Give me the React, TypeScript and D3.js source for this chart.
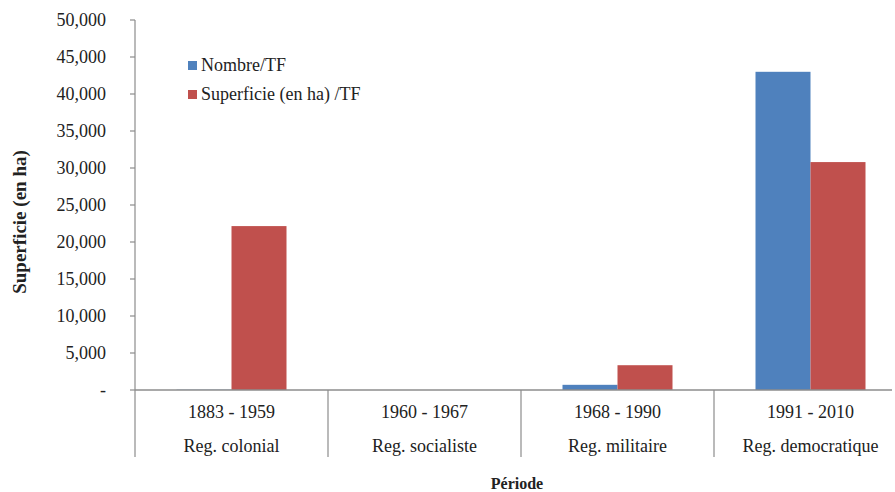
import React, { useEffect, useRef } from 'react';
import * as d3 from 'd3';

const WIDTH = 895;
const HEIGHT = 492;

const periods = ['1883 - 1959', '1960 - 1967', '1968 - 1990', '1991 - 2010'];
const regimes = ['Reg. colonial', 'Reg. socialiste', 'Reg. militaire', 'Reg. democratique'];
const nombreTF = [40, 0, 700, 43000];
const superficieTF = [22150, 0, 3350, 30800];
const seriesNames = ['Nombre/TF', 'Superficie (en ha) /TF'];
const seriesColors = ['#4F81BD', '#C0504D'];
const yTicks = [0, 5000, 10000, 15000, 20000, 25000, 30000, 35000, 40000, 45000, 50000];

const FONT = '"Times New Roman", "Liberation Serif", Tinos, "DejaVu Serif", "Noto Serif", serif';
const AXIS_COLOR = '#8c8c8c';
const TEXT_SIZE = 18;

const App = () => {
  const svgRef = useRef<SVGSVGElement | null>(null);

  useEffect(() => {
    if (!svgRef.current) return;
    const svg = d3.select(svgRef.current);
    svg.selectAll('*').remove();

    const left = 135;
    const top = 20;
    const bottom = 390;

    const x = d3.scaleBand<string>().domain(periods).range([left, left + 193 * 4]);
    const sub = d3.scaleBand<number>().domain([0, 1]).range([0, 110]);
    const y = d3.scaleLinear().domain([0, 50000]).range([bottom, top]);

    // bars
    const data = periods.map((p, i) => ({ p, vals: [nombreTF[i], superficieTF[i]] }));
    const groups = svg.append('g')
      .selectAll('g')
      .data(data)
      .enter()
      .append('g')
      .attr('transform', d => `translate(${(x(d.p) || 0) + x.bandwidth() / 2 - 55}, 0)`);

    groups.selectAll('rect')
      .data(d => d.vals.map((v, k) => ({ v, k })))
      .enter()
      .append('rect')
      .attr('x', d => sub(d.k) || 0)
      .attr('width', sub.bandwidth())
      .attr('y', d => y(d.v))
      .attr('height', d => bottom - y(d.v))
      .attr('fill', d => seriesColors[d.k]);

    // y axis
    const yAxis = svg.append('g');
    yAxis.append('line')
      .attr('x1', left).attr('x2', left)
      .attr('y1', top).attr('y2', 457)
      .attr('stroke', AXIS_COLOR).attr('stroke-width', 1.2);
    yAxis.selectAll('.tick')
      .data(yTicks)
      .enter()
      .append('line')
      .attr('x1', left - 5).attr('x2', left)
      .attr('y1', d => y(d)).attr('y2', d => y(d))
      .attr('stroke', AXIS_COLOR).attr('stroke-width', 1.2);
    yAxis.selectAll('.lbl')
      .data(yTicks)
      .enter()
      .append('text')
      .attr('x', 106)
      .attr('y', d => y(d) + 6)
      .attr('text-anchor', 'end')
      .style('font-family', FONT)
      .style('font-size', `${TEXT_SIZE}px`)
      .attr('fill', '#222')
      .text(d => d === 0 ? '-' : d3.format(',')(d));

    // x axis with category dividers
    svg.append('line')
      .attr('x1', left).attr('x2', 892)
      .attr('y1', bottom).attr('y2', bottom)
      .attr('stroke', AXIS_COLOR).attr('stroke-width', 1.5);
    svg.selectAll('.divider')
      .data(periods.slice(1))
      .enter()
      .append('line')
      .attr('x1', d => x(d) || 0).attr('x2', d => x(d) || 0)
      .attr('y1', bottom).attr('y2', 457)
      .attr('stroke', AXIS_COLOR).attr('stroke-width', 1.2);

    svg.selectAll('.period')
      .data(periods)
      .enter()
      .append('text')
      .attr('x', d => (x(d) || 0) + x.bandwidth() / 2)
      .attr('y', 418)
      .attr('text-anchor', 'middle')
      .style('font-family', FONT)
      .style('font-size', `${TEXT_SIZE}px`)
      .attr('fill', '#222')
      .text(d => d);

    svg.selectAll('.regime')
      .data(regimes)
      .enter()
      .append('text')
      .attr('x', (d, i) => (x(periods[i]) || 0) + x.bandwidth() / 2)
      .attr('y', 452)
      .attr('text-anchor', 'middle')
      .style('font-family', FONT)
      .style('font-size', `${TEXT_SIZE}px`)
      .attr('fill', '#222')
      .text(d => d);

    // axis titles
    svg.append('text')
      .attr('x', 517)
      .attr('y', 489)
      .attr('text-anchor', 'middle')
      .style('font-family', FONT)
      .style('font-size', '16px')
      .style('font-weight', 'bold')
      .attr('fill', '#222')
      .text('Période');

    svg.append('text')
      .attr('transform', 'translate(26, 222) rotate(-90)')
      .attr('text-anchor', 'middle')
      .style('font-family', FONT)
      .style('font-size', '19px')
      .style('font-weight', 'bold')
      .attr('fill', '#222')
      .text('Superficie (en ha)');

    // legend
    const legend = svg.append('g')
      .selectAll('g')
      .data(seriesNames)
      .enter()
      .append('g')
      .attr('transform', (d, i) => `translate(188, ${61 + i * 29})`);
    legend.append('rect')
      .attr('width', 9).attr('height', 9)
      .attr('fill', (d, i) => seriesColors[i]);
    legend.append('text')
      .attr('x', 13)
      .attr('y', 10)
      .style('font-family', FONT)
      .style('font-size', `${TEXT_SIZE}px`)
      .attr('fill', '#222')
      .text(d => d);
  }, []);

  return (
    <svg
      ref={svgRef}
      width={WIDTH}
      height={HEIGHT}
      style={{ position: 'absolute', left: 0, top: 0, background: '#fff' }}
    />
  );
};

export default App;
